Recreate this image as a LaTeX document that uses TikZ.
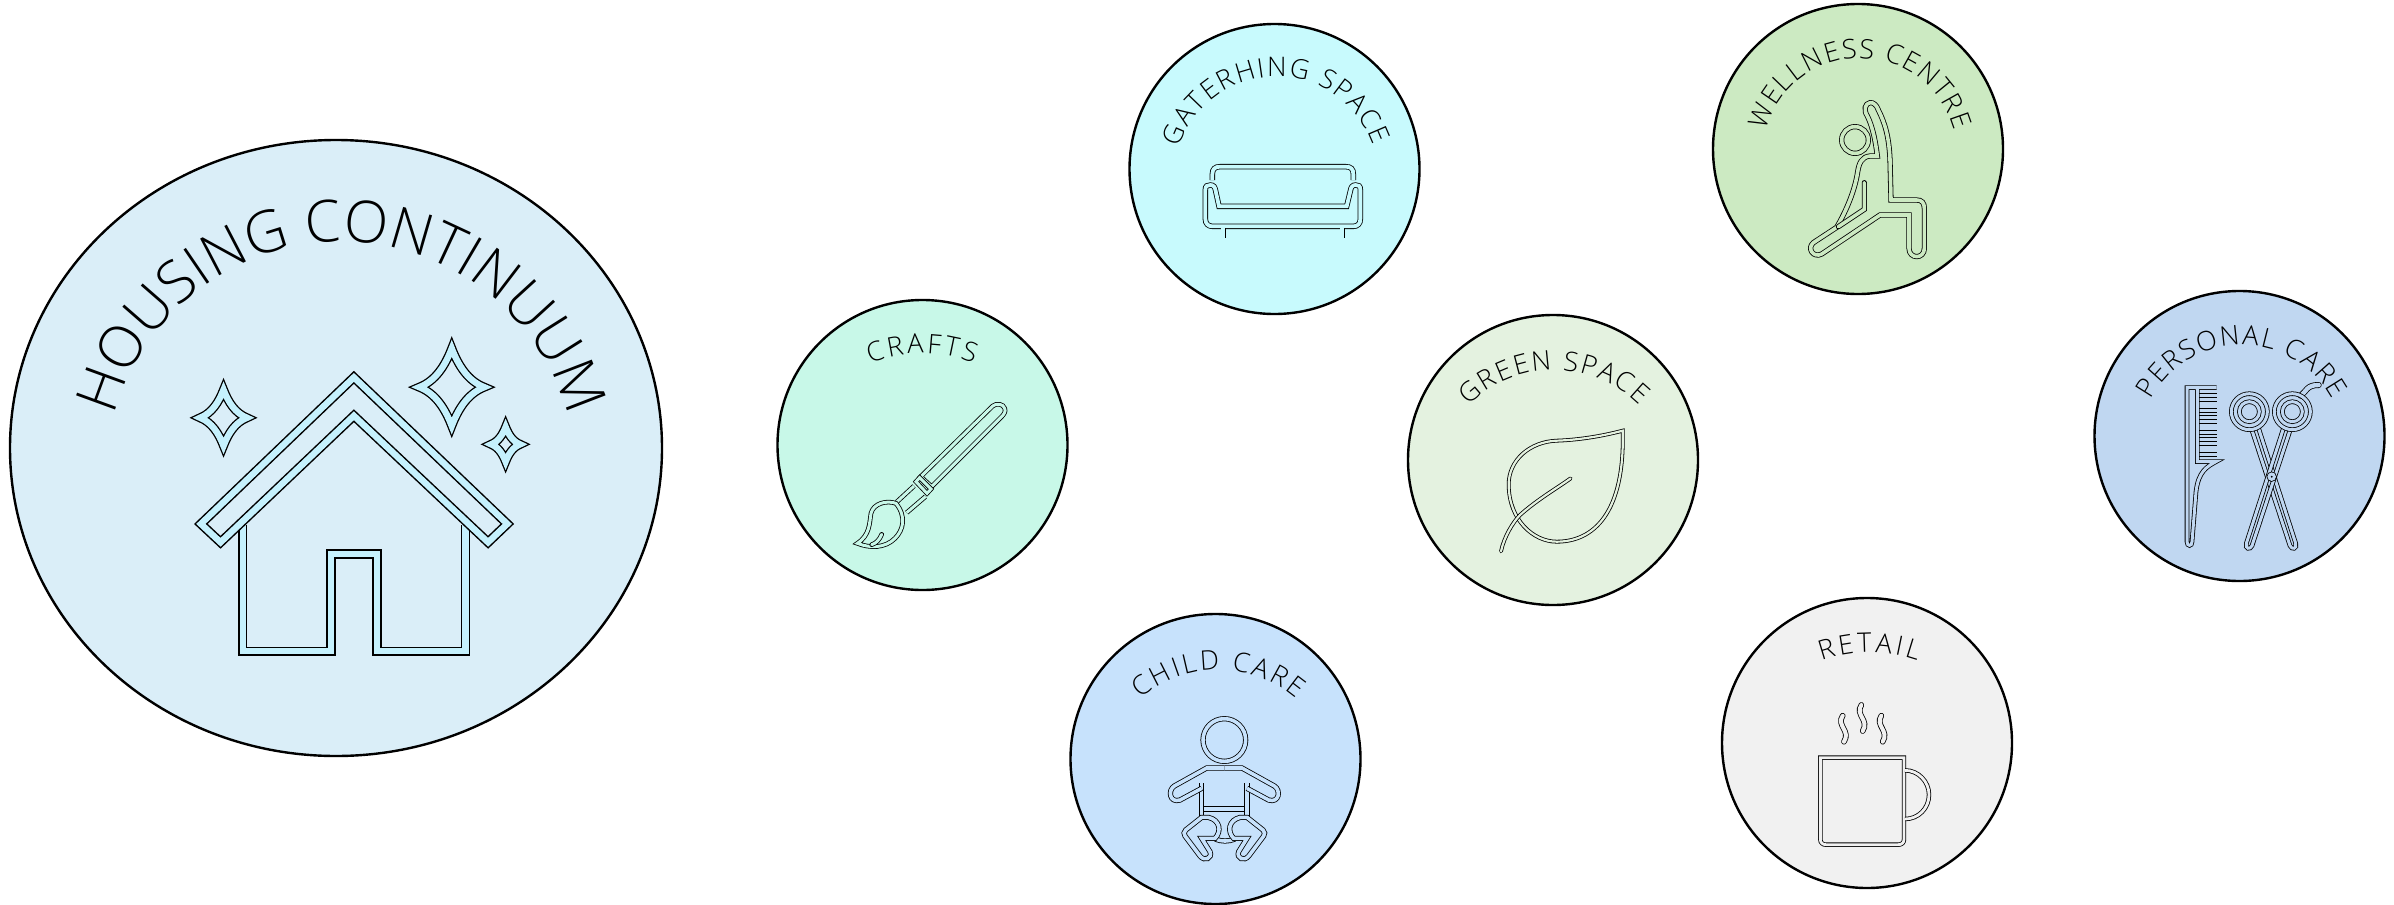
\documentclass[tikz,border=0pt]{standalone}
\usepackage{fontspec}
\setsansfont{Open Sans Light}
\usetikzlibrary{shapes.geometric, decorations.text}
\definecolor{fillHub}{HTML}{DAEEF8}
\definecolor{fillHouse}{HTML}{C5F1FD}
\definecolor{fillCrafts}{HTML}{C8F8E8}
\definecolor{fillGather}{HTML}{C8FAFD}
\definecolor{fillWell}{HTML}{CCEAC2}
\definecolor{fillPersonal}{HTML}{C0D7F1}
\definecolor{fillGreen}{HTML}{E4F2E0}
\definecolor{fillChild}{HTML}{C7E2FC}
\definecolor{fillRetail}{HTML}{F1F1F1}
\newcommand{\hubFont}{\sffamily\fontsize{29}{32}\selectfont}
\newcommand{\spotFont}{\sffamily\fontsize{13.5}{15}\selectfont}
% centre x, centre y, radius, start, end, font, text
\newcommand{\arcLabel}[7]{\path[decorate, decoration={text along path, text align={fit to path}, text={|#6|#7}}]
    (#1,#2) ++(#4:#3) arc[start angle=#4, end angle=#5, radius=#3];}
\tikzset{
    font=\sffamily,
    % Shapes
    spot/.style={circle, draw=black, line width=1.2pt, minimum size=145pt, inner sep=0pt},
    hub/.style={ellipse, draw=black, line width=1.2pt, fill=fillHub, minimum width=326pt, minimum height=308pt, inner sep=0pt},
    % Icons: outlined strokes
    iconline/.style 2 args={draw=black, line width=.4pt, double=#1, double distance=#2},
    % Crops of 3 units per pixel
    crop/.style={x=.16667pt, y=-.16667pt}
}
\begin{document}
\begin{tikzpicture}[x=.5pt, y=-.5pt]
\useasboundingbox (0,0) rectangle (2394,905);

\node[hub] (housing) at (336,448) {};
\node[spot, fill=fillCrafts] (crafts) at (922.5,445) {};
\node[spot, fill=fillGather] (gathering) at (1274.5,169) {};
\node[spot, fill=fillWell] (wellness) at (1858,149) {};
\node[spot, fill=fillPersonal] (personal) at (2239.5,436) {};
\node[spot, fill=fillGreen] (green) at (1553,460) {};
\node[spot, fill=fillChild] (child) at (1215.5,759) {};
\node[spot, fill=fillRetail] (retail) at (1867,743) {};

% House
\begin{scope}[shift={(0,130)}, x=.2137pt, y=-.2041pt, ln/.style={iconline={fillHouse}{3.2pt}, line width=.75pt}]
\draw[ln] (568,968) -- (568,1277) -- (774,1277) -- (774,1039) -- (882,1039) -- (882,1277) -- (1089,1277) -- (1089,968);
\draw[ln] (828,606) -- (1187,965) -- (1142,1010) -- (828,700) -- (516,1010) -- (470,965) -- cycle;
\foreach \cx/\cy/\rx in {1057/630/76, 523/705/55, 1183/770/34}{
  \begin{scope}[shift={(\cx,\cy)}, scale=\rx]
  \draw[ln, line width=.65pt] (0,-1.25) .. controls (.2,-.7) and (.5,-.2) .. (1,0)
      .. controls (.5,.2) and (.2,.7) .. (0,1.25)
      .. controls (-.2,.7) and (-.5,.2) .. (-1,0)
      .. controls (-.5,-.2) and (-.2,-.7) .. (0,-1.25) -- cycle;
  \end{scope}
}
\end{scope}
\arcLabel{341}{477}{235}{195}{344.5}{\hubFont}{HOUSING CONTINUUM}

% Brush
\begin{scope}[shift={(770,290)}, crop, ln/.style={iconline={fillCrafts}{1.5pt}}]
\arcLabel{456}{605}{415}{248}{292}{\spotFont}{CRAFTS}
\draw[ln] (452,560) -- (668,348) .. controls (680,338) and (700,342) .. (704,355)
    .. controls (708,365) and (702,372) .. (695,380) -- (485,590) -- cycle;
\draw[ln] (438,575) -- (449,563) -- (483,597) -- (471,610) -- cycle;
\draw[ln] (432,588) -- (380,636);
\draw[ln] (466,620) -- (410,668);
\draw[ln] (378,640) .. controls (350,630) and (310,640) .. (303,670)
    .. controls (298,700) and (300,735) .. (262,760)
    .. controls (300,775) and (345,775) .. (375,745)
    .. controls (400,720) and (410,680) .. (378,640) -- cycle;
\draw[ln, line cap=round] (305,764) .. controls (318,760) and (328,750) .. (335,733);
\end{scope}

% Sofa
\begin{scope}[shift={(1125,15)}, crop, ln/.style={iconline={fillGather}{1.9pt}}]
\arcLabel{455}{492}{307}{198}{341}{\spotFont}{GATERHING SPACE}
\draw[ln] (262,495) -- (262,478) .. controls (262,462) and (270,455) .. (285,455) -- (662,455)
    .. controls (678,455) and (685,462) .. (685,478) -- (685,495);
\draw[ln] (241,524) .. controls (241,513) and (247,510) .. (256,510) .. controls (266,510) and (270,516) .. (272,528)
    -- (282,574) -- (665,574) -- (676,528) .. controls (678,516) and (682,510) .. (692,510)
    .. controls (701,510) and (706,513) .. (706,524) -- (706,612)
    .. controls (706,626) and (698,634) .. (685,634) -- (262,634)
    .. controls (250,634) and (241,626) .. (241,612) -- cycle;
\draw[ln] (295,640) -- (295,668);
\draw[ln] (652,640) -- (652,668);
\end{scope}

% Yoga figure
\begin{scope}[shift={(1705,0)}, crop, ln/.style={iconline={fillWell}{1.8pt}}]
\arcLabel{465}{467}{292}{195}{345}{\spotFont}{WELLNESS CENTRE}
\draw[ln] (450,420) circle[radius=40];
\draw[ln] (495,308) .. controls (480,310) and (475,330) .. (487,348) .. controls (505,385) and (512,430) .. (517,468)
    -- (495,468) .. controls (470,470) and (462,490) .. (458,515) .. controls (450,570) and (425,630) .. (395,682)
    -- (325,728) .. controls (305,745) and (325,775) .. (350,762) -- (525,645) -- (612,645) -- (612,745)
    .. controls (612,778) and (658,778) .. (658,745) -- (658,625) .. controls (658,608) and (650,600) .. (635,600)
    -- (558,600) -- (555,480) .. controls (552,410) and (540,370) .. (520,330) .. controls (515,315) and (505,307) .. (495,308) -- cycle;
\draw[ln, line cap=round] (478,548) -- (478,628) -- (400,680);
\end{scope}

% Comb and scissors
\begin{scope}[shift={(2090,285)}, crop, ln/.style={iconline={fillPersonal}{1.5pt}}]
\arcLabel{455}{488}{308}{208}{332}{\spotFont}{PERSONAL CARE}
\foreach \y in {332,354,...,508}{
  \draw[ln] (322,\y) -- (380,\y);
}
\draw[ln] (380,308) -- (291,308) -- (291,770) .. controls (291,785) and (306,785) .. (306,770)
    -- (318,620) .. controls (325,560) and (350,545) .. (378,530) -- (322,530) -- (322,308);
\draw[ln] (505,428) -- (617,775) .. controls (622,792) and (605,795) .. (600,782) -- (485,433);
\draw[ln] (581,428) -- (469,775) .. controls (464,792) and (481,795) .. (486,782) -- (601,433);
\draw[ln] (545,575) circle[radius=8];
\draw[ln, line cap=round, double distance=2.2pt] (632,332) .. controls (650,318) and (650,300) .. (686,300);
\draw[ln] (478,380) circle[radius=54];
\draw[ln] (478,380) circle[radius=30];
\draw[ln] (607,380) circle[radius=54];
\draw[ln] (607,380) circle[radius=30];
\end{scope}

% Leaf
\begin{scope}[shift={(1400,310)}, crop, ln/.style={iconline={fillGreen}{1.1pt}}]
\arcLabel{462}{542}{362}{225}{315}{\spotFont}{GREEN SPACE}
\draw[ln] (668,362) .. controls (600,380) and (530,390) .. (470,392) .. controls (390,395) and (325,450) .. (326,525)
    .. controls (327,630) and (400,695) .. (470,695) .. controls (580,695) and (675,610) .. (668,362) -- cycle;
\draw[ln, line cap=round] (303,724) .. controls (312,680) and (340,635) .. (360,615) .. controls (410,570) and (470,535) .. (512,505);
\end{scope}

% Baby
\begin{scope}[shift={(1065,610)}, crop, ln/.style={iconline={fillChild}{1.8pt}}]
\arcLabel{460}{536}{356}{229}{311}{\spotFont}{CHILD CARE}
\draw[ln] (478,390) circle[radius=64];
\draw[ln] (410,597) -- (545,597);
\draw[ln] (450,687) .. controls (470,695) and (490,695) .. (510,687);
\foreach \s in {1,-1}{
  \begin{scope}[shift={(478,0)}, xscale=\s]
  \draw[ln] (-68,520) -- (-68,622);
  \draw[ln] (-68,535) -- (-133,570) .. controls (-165,580) and (-170,540) .. (-150,528) -- (-53,474) -- (0,474);
  \draw[ln] (-48,622) -- (-68,622) -- (-116,660) .. controls (-122,666) and (-122,672) .. (-118,678) -- (-73,738)
      .. controls (-60,755) and (-35,745) .. (-43,725) -- (-68,685) -- (-28,685) .. controls (-8,665) and (-12,630) .. (-48,622) -- cycle;
  \end{scope}
}
\end{scope}

% Mug
\begin{scope}[shift={(1720,595)}, crop, ln/.style={iconline={fillRetail}{1.4pt}}]
\arcLabel{448}{592}{420}{250}{290}{\spotFont}{RETAIL}
\draw[ln] (301,488) -- (552,488) -- (552,733) .. controls (552,743) and (545,749) .. (535,749) -- (318,749)
    .. controls (308,749) and (301,743) .. (301,733) -- cycle;
\draw[ln] (555,526) .. controls (595,526) and (627,560) .. (627,599) .. controls (627,640) and (595,672) .. (555,672);
\foreach \cx/\cy in {368/362, 424/330, 484/362}{
  \draw[ln, line cap=round, double distance=2pt] (\cx,\cy) .. controls (\cx-20,\cy+30) and (\cx+25,\cy+45) .. (\cx+4,\cy+78);
}
\end{scope}

\end{tikzpicture}
\end{document}
